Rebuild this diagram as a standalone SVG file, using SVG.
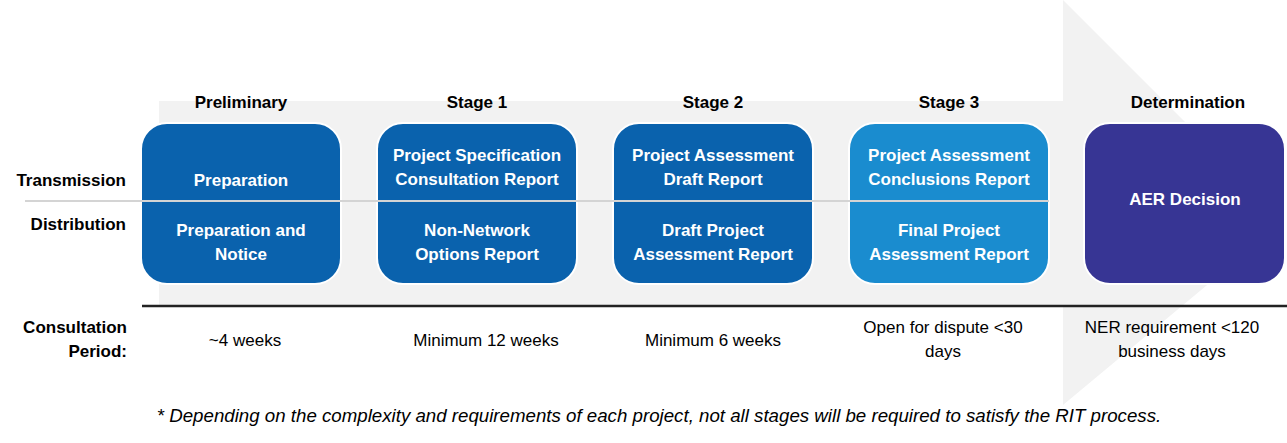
<svg xmlns="http://www.w3.org/2000/svg" width="1287" height="443" viewBox="0 0 1287 443">
<style>
text{font-family:"Liberation Sans",Arial,sans-serif;font-size:17px;fill:#000}
.h{font-weight:bold;text-anchor:middle}
.lbl{font-weight:bold;text-anchor:end}
.w{font-weight:bold;fill:#fff;text-anchor:middle}
.p{text-anchor:middle}
.box{stroke:#fff;stroke-width:2}
.note{font-style:italic;text-anchor:middle;font-size:18.7px}
</style>
<rect width="1287" height="443" fill="#fff"/>
<g id="bg-arrow">
<polygon points="159,101 1063,101 1063,0 1284,221 1063,405 1063,305 159,305" fill="#f2f2f2"/>
</g>
<g id="connectors">
<line x1="142" y1="306" x2="1287" y2="306" stroke="#222" stroke-width="2.5"/>
</g>
<g id="labels">
<text class="lbl" x="126" y="186">Transmission</text>
<text class="lbl" x="126" y="230">Distribution</text>
<text class="lbl" x="127" y="333">Consultation</text>
<text class="lbl" x="127" y="357">Period:</text>
</g>
<g id="preliminary">
<text class="h" x="241" y="108">Preliminary</text>
<rect class="box" x="141" y="123" width="200" height="161" rx="26" fill="#0a62ad"/>
<text class="w" x="241" y="186">Preparation</text>
<text class="w" x="241" y="236">Preparation and</text>
<text class="w" x="241" y="260">Notice</text>
<text class="p" x="245" y="346">~4 weeks</text>
</g>
<g id="stage1">
<text class="h" x="477" y="108">Stage 1</text>
<rect class="box" x="377" y="123" width="200" height="161" rx="26" fill="#0a62ad"/>
<text class="w" x="477" y="161">Project Specification</text>
<text class="w" x="477" y="185">Consultation Report</text>
<text class="w" x="477" y="236">Non-Network</text>
<text class="w" x="477" y="260">Options Report</text>
<text class="p" x="486" y="346">Minimum 12 weeks</text>
</g>
<g id="stage2">
<text class="h" x="713" y="108">Stage 2</text>
<rect class="box" x="613" y="123" width="200" height="161" rx="26" fill="#0a62ad"/>
<text class="w" x="713" y="161">Project Assessment</text>
<text class="w" x="713" y="185">Draft Report</text>
<text class="w" x="713" y="236">Draft Project</text>
<text class="w" x="713" y="260">Assessment Report</text>
<text class="p" x="713" y="346">Minimum 6 weeks</text>
</g>
<g id="stage3">
<text class="h" x="949" y="108">Stage 3</text>
<rect class="box" x="849" y="123" width="200" height="161" rx="26" fill="#1a8ccf"/>
<text class="w" x="949" y="161">Project Assessment</text>
<text class="w" x="949" y="185">Conclusions Report</text>
<text class="w" x="949" y="236">Final Project</text>
<text class="w" x="949" y="260">Assessment Report</text>
<text class="p" x="943" y="333">Open for dispute &lt;30</text>
<text class="p" x="943" y="357">days</text>
</g>
<g id="determination">
<text class="h" x="1188" y="108">Determination</text>
<rect class="box" x="1084" y="123" width="201" height="161" rx="26" fill="#373594"/>
<text class="w" x="1185" y="205">AER Decision</text>
<text class="p" x="1172" y="333">NER requirement &lt;120</text>
<text class="p" x="1172" y="357">business days</text>
</g>
<g id="divider">
<line x1="25" y1="201" x2="1049" y2="201" stroke="#d4d4d4" stroke-width="2"/>
</g>
<g id="footnote">
<text class="note" x="659" y="422">* Depending on the complexity and requirements of each project, not all stages will be required to satisfy the RIT process.</text>
</g>
</svg>
